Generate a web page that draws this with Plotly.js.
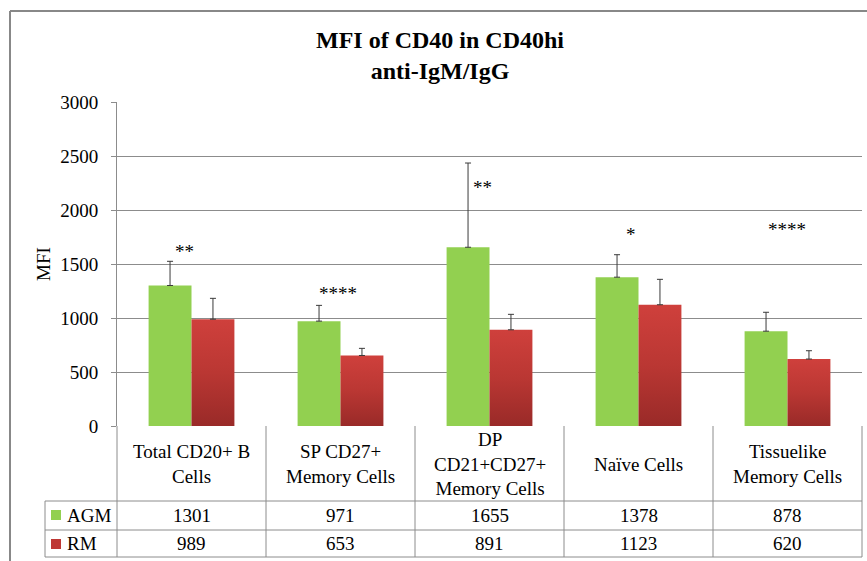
<!DOCTYPE html>
<html>
<head>
<meta charset="utf-8">
<script src="https://cdn.plot.ly/plotly-3.0.1.min.js"></script>
<style>
html,body{margin:0;padding:0;background:#fff;}
#chart{width:867px;height:561px;}
</style>
</head>
<body>
<div id="chart"></div>
<script>
// ---- data ----
const categories = ["Total CD20+ B Cells", "SP CD27+ Memory Cells", "DP CD21+CD27+ Memory Cells", "Naïve Cells", "Tissuelike Memory Cells"];
const categoryLabels = ["Total CD20+ B<br>Cells", "SP CD27+<br>Memory Cells", "DP<br>CD21+CD27+<br>Memory Cells", "Naïve Cells", "Tissuelike<br>Memory Cells"];
const seriesNames = ["AGM", "RM"];
const agmValues = [1301, 971, 1655, 1378, 878];
const rmValues = [989, 653, 891, 1123, 620];
const agmErrors = [224, 146, 780, 208, 175];
const rmErrors = [193, 66, 143, 235, 77];
const sigLabels = ["**", "****", "**", "*", "****"];
const sigY = [1620, 1225, 2210, 1770, 1815];
const yTicks = [0, 500, 1000, 1500, 2000, 2500, 3000];

(function () {
  const W = 867, H = 561, L = 117, R = 862, T = 102, B = 426;
  const px = x => (x - L) / (R - L);
  const py = y => (B - y) / (B - T);
  const sigShift = [-7, -3, -7, -8, -1];

  const green = "#92D050";
  const red = "#BE3734";
  const FAM = "Liberation Serif, Times New Roman, serif";
  const lineCol = "#8C8C8C";
  const txt = size => ({family: FAM, size: size, color: "#000"});
  const FS = 19;

  const zeros = agmValues.map(() => 0);
  const traces = [
    {type: "bar", name: seriesNames[0], x: categories, y: agmValues,
     marker: {color: green},
     error_y: {type: "data", symmetric: false, array: agmErrors, arrayminus: zeros, color: "#3A3A3A", thickness: 1, width: 3}},
    {type: "bar", name: seriesNames[1], x: categories, y: rmValues,
     marker: {color: red},
     error_y: {type: "data", symmetric: false, array: rmErrors, arrayminus: zeros, color: "#3A3A3A", thickness: 1, width: 3}}
  ];

  const shapes = [];
  const line = (x0, y0, x1, y1, col, w) => shapes.push({type: "line", xref: "paper", yref: "paper", x0: px(x0), y0: py(y0), x1: px(x1), y1: py(y1), line: {color: col || lineCol, width: w || 1}, layer: "above"});
  line(10, 11, 870, 11, "#888888", 2);
  line(10, 11, 10, 565, "#888888", 2);
  const colX = [117, 266, 415, 564, 713, 862];
  colX.forEach(x => line(x, 426, x, 557));
  line(45, 501, 862, 501);
  line(45, 530, 862, 530);
  line(45, 557, 862, 557);
  line(45, 501, 45, 557);
  const keyColors = [green, red];
  [515, 544].forEach((yc, i) => shapes.push({type: "rect", xref: "paper", yref: "paper", x0: px(51), x1: px(61), y0: py(yc - 5), y1: py(yc + 5), fillcolor: keyColors[i], line: {width: 0}}));

  const annotations = [];
  annotations.push({xref: "paper", yref: "paper", x: px(440), y: py(55), text: "<b>MFI of CD40 in CD40hi<br>anti-IgM/IgG</b>", showarrow: false, font: txt(24), xanchor: "center", yanchor: "middle"});
  annotations.push({xref: "paper", yref: "paper", x: px(43), y: 0.5, text: "MFI", textangle: -90, showarrow: false, font: txt(FS), xanchor: "center", yanchor: "middle"});
  categories.forEach((c, i) => annotations.push({xref: "x", yref: "y", x: c, y: sigY[i], xshift: sigShift[i], text: sigLabels[i], showarrow: false, font: txt(FS), xanchor: "center", yanchor: "middle"}));
  categories.forEach((c, i) => annotations.push({xref: "x", yref: "paper", x: c, y: py(464), text: categoryLabels[i], showarrow: false, font: txt(FS), xanchor: "center", yanchor: "middle"}));
  [agmValues, rmValues].forEach((vals, r) => {
    const yc = r === 0 ? 515.5 : 543.5;
    categories.forEach((c, i) => annotations.push({xref: "x", yref: "paper", x: c, y: py(yc), text: String(vals[i]), showarrow: false, font: txt(FS), xanchor: "center", yanchor: "middle"}));
    annotations.push({xref: "paper", yref: "paper", x: px(65), y: py(yc), text: seriesNames[r], showarrow: false, font: txt(FS), xanchor: "left", yanchor: "middle"});
  });

  const layout = {
    width: W, height: H,
    margin: {l: L, r: W - R, t: T, b: H - B},
    paper_bgcolor: "#fff", plot_bgcolor: "#fff",
    showlegend: false,
    barmode: "group", bargap: 0.424, bargroupgap: 0,
    xaxis: {showticklabels: false, showgrid: false, zeroline: false, showline: false, ticks: "", fixedrange: true},
    yaxis: {range: [0, 3000], tickvals: yTicks, ticks: "outside", ticklen: 5, tickcolor: lineCol, showline: true, linecolor: lineCol, linewidth: 1,
            gridcolor: lineCol, gridwidth: 1, zeroline: false, ticklabelstandoff: 9, fixedrange: true,
            tickfont: txt(FS)},
    shapes: shapes,
    annotations: annotations,
    font: {family: FAM, color: "#000"}
  };

  Plotly.newPlot("chart", traces, layout, {displayModeBar: false}).then(gd => {
    const svg = gd.querySelector("svg.main-svg");
    const ns = "http://www.w3.org/2000/svg";
    let defs = svg.querySelector("defs");
    if (!defs) { defs = document.createElementNS(ns, "defs"); svg.insertBefore(defs, svg.firstChild); }
    const g = document.createElementNS(ns, "linearGradient");
    g.setAttribute("id", "rmGrad"); g.setAttribute("x1", "0"); g.setAttribute("y1", "0"); g.setAttribute("x2", "0"); g.setAttribute("y2", "1");
    [["0", "#CF403C"], ["0.5", "#BA3733"], ["1", "#992A28"]].forEach(([o, c]) => {
      const s = document.createElementNS(ns, "stop"); s.setAttribute("offset", o); s.setAttribute("stop-color", c); g.appendChild(s);
    });
    defs.appendChild(g);
    const barTraces = gd.querySelectorAll(".barlayer .trace");
    if (barTraces[1]) barTraces[1].querySelectorAll("path").forEach(p => { p.style.fill = "url(#rmGrad)"; });
  });
})();
</script>
</body>
</html>
